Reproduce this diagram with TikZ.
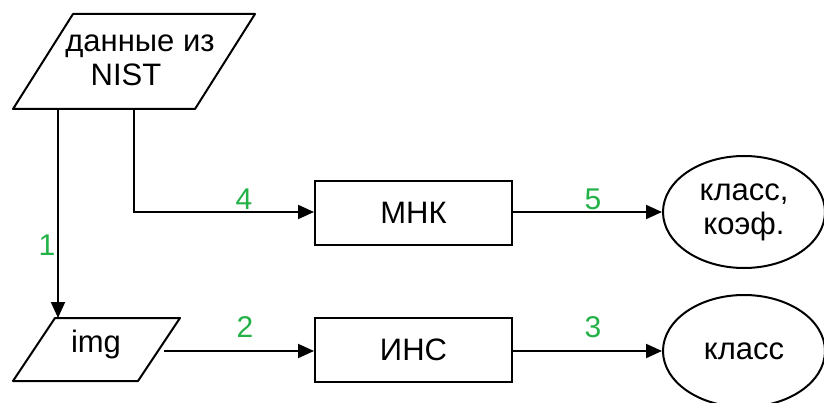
\documentclass[tikz,border=0pt]{standalone}
\usepackage{fontspec}
\setmainfont{Liberation Sans}
\usetikzlibrary{arrows.meta,shapes.geometric}
\definecolor{flowgreen}{RGB}{36,178,72}
\tikzset{
  base/.style={line width=2pt, draw=black},
  io/.style={base, line join=round},
  procbox/.style={base, rectangle, minimum width=197pt, minimum height=64pt, inner sep=0pt},
  result/.style={base, ellipse, minimum width=162pt, minimum height=112pt, inner sep=0pt, align=center},
  label/.style={font=\fontsize{31}{37}\selectfont},
  num/.style={text=flowgreen, font=\fontsize{30}{36}\selectfont, inner sep=0pt},
  flow/.style={line width=2pt, -{Triangle[length=16pt,width=14pt]}},
}
\begin{document}
\begin{tikzpicture}[x=1pt,y=-1pt]
  \useasboundingbox (0,0) rectangle (824,403);
  \clip (0,0) rectangle (824,403);
  \fill[white] (0,0) rectangle (824,403);

  % input data: parallelogram "данные из NIST"
  \coordinate (nA) at (73,14);
  \coordinate (nB) at (255,14);
  \coordinate (nC) at (195,109);
  \coordinate (nD) at (13,109);
  \draw[io] (nA) -- (nB) -- (nC) -- (nD) -- cycle;
  \node[label, align=center, inner sep=0pt] (nist) at (140,60) {данные из\\[-3pt]NIST\hspace*{28pt}};
  \coordinate (nistL) at (58,109);
  \coordinate (nistR) at (134,109);

  % image input: parallelogram "img"
  \coordinate (iA) at (55,318);
  \coordinate (iB) at (180,318);
  \coordinate (iC) at (138,381);
  \coordinate (iD) at (13,381);
  \draw[io] (iA) -- (iB) -- (iC) -- (iD) -- cycle;
  \node[label, inner sep=0pt] (img) at (96,344) {img};
  \coordinate (imgTop) at (58,318);
  \coordinate (imgOut) at (164,351);

  % processing blocks
  \node[procbox, label] (mnk) at (413.5,213) {МНК};
  \node[procbox, label] (ins) at (413.5,350) {ИНС};

  % outputs
  \node[result, label] (coef) at (744,212) {класс,\\[-3pt]коэф.};
  \node[result, label] (cls) at (744,351) {класс};

  % connectors
  \draw[flow] (nistL) -- (imgTop);
  \coordinate (bend) at (134,212);
  \draw[flow] (nistR) -- (bend) -- (mnk.west |- bend);
  \draw[flow] (imgOut) -- (ins.west |- imgOut);
  \draw[flow] (mnk.east |- bend) -- (coef.west |- bend);
  \draw[flow] (ins.east |- imgOut) -- (cls.west |- imgOut);

  % step numbers
  \node[num] (n1) at (47,245) {1};
  \node[num] (n2) at (245,327) {2};
  \node[num] (n3) at (593,327) {3};
  \node[num] (n4) at (244,199) {4};
  \node[num] (n5) at (593,199) {5};
\end{tikzpicture}
\end{document}
